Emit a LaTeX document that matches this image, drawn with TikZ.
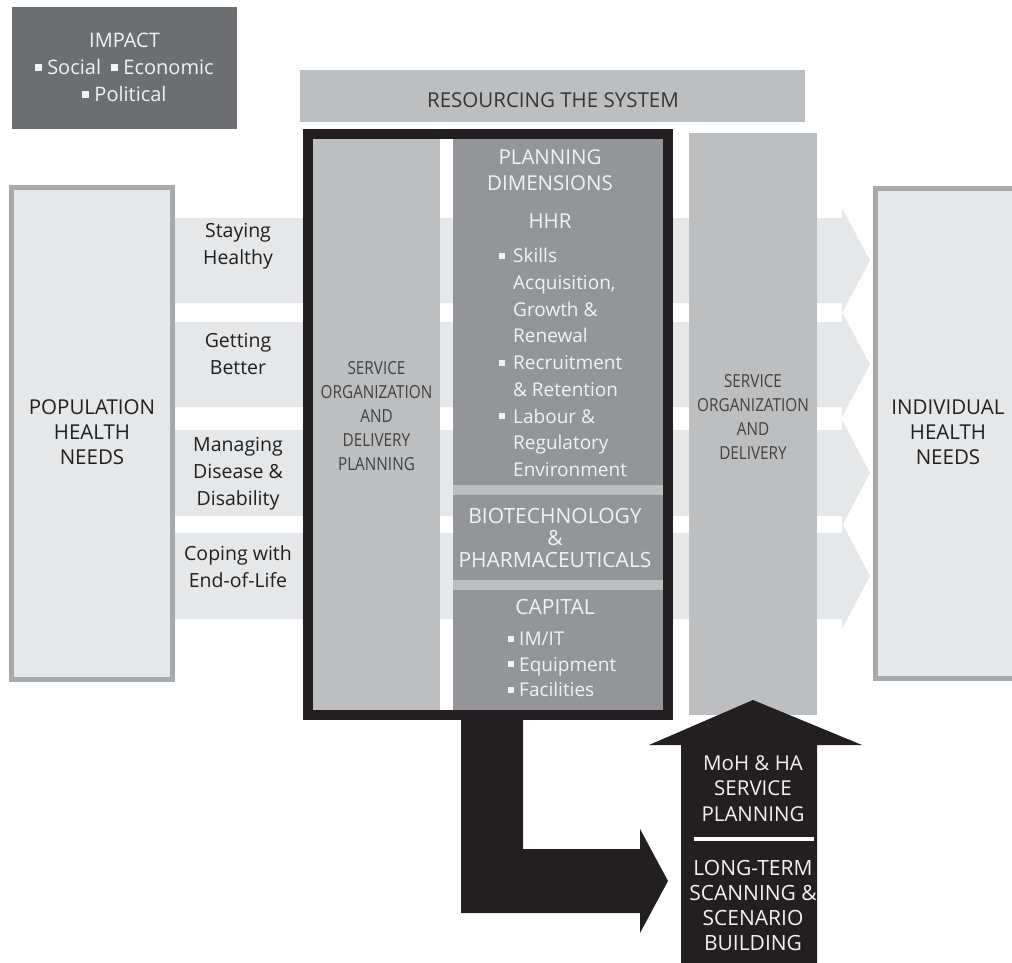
\documentclass[tikz,border=0pt]{standalone}
\usepackage{fontspec}
\setmainfont{Open Sans}
\newfontfamily\condfont[FakeStretch=0.85]{Open Sans}
\definecolor{bandc}{HTML}{E6E7E8}
\definecolor{bordc}{HTML}{A7A9AC}
\definecolor{midc}{HTML}{BCBEC0}
\definecolor{darkc}{HTML}{939598}
\definecolor{impactc}{HTML}{6D6E71}
\definecolor{blk}{HTML}{231F20}
\definecolor{wtxt}{HTML}{F1F2F2}
\newcommand\bul{\makebox[14pt][l]{\rule[4pt]{6pt}{6pt}}}
\newcommand\bulc{\makebox[11pt][l]{\rule[4pt]{6pt}{6pt}}}
\newcommand\bulb{\rule[4pt]{7pt}{7pt}\hspace{5pt}}
\newcommand\ind{\hspace*{14pt}}
\begin{document}
\begin{tikzpicture}[x=1pt,y=-1pt,
  band/.style={fill=bandc},
  lbl/.style={inner sep=0pt, align=center, text=blk, font=\fontsize{19.5}{27}\selectfont},
  caplbl/.style={inner sep=0pt, align=center, text=blk, font=\fontsize{20.5}{25}\selectfont},
  collbl/.style={inner sep=0pt, align=center, text=blk!85, font=\condfont\fontsize{18}{24}\selectfont},
  wlbl/.style={inner sep=0pt, align=center, text=wtxt, font=\fontsize{20.5}{25.5}\selectfont},
  wlist/.style={inner sep=0pt, align=left, text=wtxt, anchor=north west},
]
\useasboundingbox (0,0) rectangle (1012,962);
\clip (0,0) rectangle (1012,962);

% bands with arrowheads
\foreach \t/\b in {218/303, 322/407, 430/516, 533/619}{
  \pgfmathsetmacro\m{(\t+\b)/2}
  \pgfmathsetmacro\tt{\t-10}
  \pgfmathsetmacro\bb{\b+10}
  \fill[band] (175,\t) -- (842,\t) -- (842,\tt) -- (870,\m) -- (842,\bb) -- (842,\b) -- (175,\b) -- cycle;
}

% population / individual boxes
\draw[fill=bandc, draw=bordc, line width=5pt] (11.5,187.5) rectangle (172.5,679.5);
\draw[fill=bandc, draw=bordc, line width=5pt] (875.5,188.5) rectangle (1030,678.5);
\node[caplbl] (pop) at (92,432) {POPULATION\\HEALTH\\NEEDS};
\node[caplbl] (ind) at (948,432) {INDIVIDUAL\\HEALTH\\NEEDS};

% band labels
\node[lbl] (stay) at (238,246.5) {Staying\\Healthy};
\node[lbl] (get) at (238,353.5) {Getting\\Better};
\node[lbl] (man) at (238,474) {Managing\\Disease \&\\Disability};
\node[lbl] (cope) at (238,566.5) {Coping with\\End-of-Life};

% impact
\fill[impactc] (12,7) rectangle (237,129);
\node[inner sep=0pt, align=center, text=wtxt, font=\fontsize{20}{27}\selectfont] (imp) at (124.5,67.5)
  {IMPACT\\\bulb Social\ \ \bulb Economic\\\bulb Political};

% resourcing
\fill[midc] (300,70) rectangle (805,122);
\node[inner sep=0pt, text=blk!90, font=\fontsize{20.5}{22}\selectfont] (res) at (553,100) {RESOURCING THE SYSTEM};

% central frame
\fill[midc] (313,139) rectangle (440,710);
\fill[darkc] (453,139) rectangle (663,710);
\fill[midc] (453,485) rectangle (663,495);
\fill[midc] (453,580) rectangle (663,590);
\draw[blk, line width=10pt] (308,134) rectangle (668,715);
\node[collbl] (sodp) at (376.5,416) {SERVICE\\ORGANIZATION\\AND\\DELIVERY\\PLANNING};

\node[wlbl] (pd) at (550,170) {PLANNING\\DIMENSIONS};
\node[wlbl] (hhr) at (550,221) {HHR};
\node[wlist, font=\fontsize{19}{26.75}\selectfont] (hhrl) at (499,248)
  {\bul Skills\\\ind Acquisition,\\\ind Growth \&\\\ind Renewal\\\bul Recruitment\\\ind \& Retention\\\bul Labour \&\\\ind Regulatory\\\ind Environment};
\node[inner sep=0pt, align=center, text=wtxt, font=\fontsize{21}{22}\selectfont] (bio) at (555,537.5) {BIOTECHNOLOGY\\\&\\PHARMACEUTICALS};
\node[inner sep=0pt, text=wtxt, font=\fontsize{21}{22}\selectfont] (cap) at (555,606.5) {CAPITAL};
\node[wlist, font=\fontsize{19}{25.5}\selectfont] (capl) at (508,632)
  {\bulc IM/IT\\\bulc Equipment\\\bulc Facilities};

% service organization and delivery column
\fill[midc] (689,133) rectangle (817,715);
\node[collbl] (sod) at (753,417) {SERVICE\\ORGANIZATION\\AND\\DELIVERY};

% L-shaped arrow
\fill[blk] (461,715) -- (523,715) -- (523,849) -- (640,849) -- (640,829) -- (668,881) -- (640,933) -- (640,913) -- (461,913) -- cycle;

% upward arrow
\fill[blk] (681,970) -- (681,745) -- (649,745) -- (753,700) -- (862,745) -- (817,745) -- (817,970) -- cycle;
\node[wlbl] (moh) at (753,788.5) {MoH \& HA\\SERVICE\\PLANNING};
\fill[white] (694,837) rectangle (814,841);
\node[wlbl, font=\fontsize{21}{25.2}\selectfont] (lts) at (753,905.5) {LONG-TERM\\SCANNING \&\\SCENARIO\\BUILDING};
\end{tikzpicture}
\end{document}
